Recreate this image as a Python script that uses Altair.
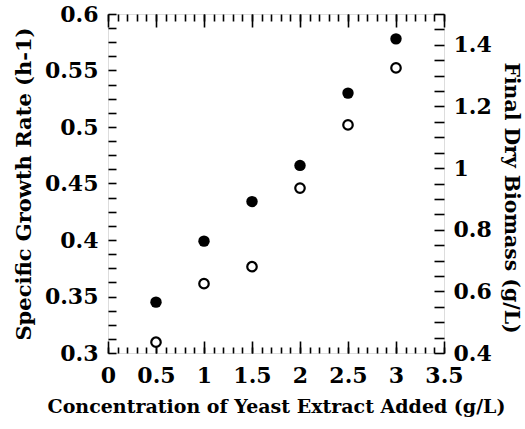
import altair as alt
import pandas as pd

# ---- data ----
concentration = [0.5, 1.0, 1.5, 2.0, 2.5, 3.0]          # g/L yeast extract
growth_rate = [0.345, 0.399, 0.434, 0.466, 0.530, 0.578]  # h-1 (filled, left axis)
dry_biomass = [0.435, 0.625, 0.680, 0.935, 1.140, 1.325]  # g/L (open, right axis)

# ---- tick lists ----
x_major = [0, 0.5, 1, 1.5, 2, 2.5, 3, 3.5]
x_minor = [round(i * 0.1, 2) for i in range(36)]
y_left_ticks = [round(0.3 + i * 0.0125, 4) for i in range(25)]
y_right_ticks = [round(0.4 + i * 0.05, 2) for i in range(23)]

df = pd.DataFrame({"conc": concentration, "growth": growth_rate, "biomass": dry_biomass})

FONT = "DejaVu Serif"
common = dict(
    domain=False, grid=False, labelOverlap=False, labelFlush=False,
    labelFont=FONT, labelFontWeight="bold", labelFontSize=22, labelColor="black",
    tickColor="black", tickWidth=1.6,
    titleFont=FONT, titleFontWeight="bold", titleColor="black",
)

x_dom = [0, 3.5]


def xs():
    return alt.Scale(domain=x_dom, nice=False, zero=False)


filled = alt.Chart(df).mark_point(shape="circle", filled=True, color="black", size=130, opacity=1).encode(
    x=alt.X("conc:Q", scale=xs(), axis=alt.Axis(
        orient="bottom", values=x_major, tickSize=12, offset=-12, labelPadding=12,
        labelExpr="format(datum.value, '~g')",
        title="Concentration of Yeast Extract Added (g/L)", titlePadding=11, titleFontSize=19, **common)),
    y=alt.Y("growth:Q", scale=alt.Scale(domain=[0.3, 0.6], nice=False, zero=False), axis=alt.Axis(
        orient="left", values=y_left_ticks, tickSize=8, offset=-8, labelPadding=10,
        labelExpr="abs(datum.value*20 - round(datum.value*20)) < 0.001 ? format(datum.value, '~g') : ''",
        title="Specific Growth Rate (h-1)", titlePadding=10, titleFontSize=21, **common)),
)

opened = alt.Chart(df).mark_point(shape="circle", filled=False, color="black", size=90, strokeWidth=2.2, fill="white", opacity=1).encode(
    x=alt.X("conc:Q", scale=xs(), axis=alt.Axis(
        orient="bottom", values=x_minor, tickSize=6, offset=-6, labels=False, title=None, **common)),
    y=alt.Y("biomass:Q", scale=alt.Scale(domain=[0.4, 1.5], nice=False, zero=False), axis=alt.Axis(
        orient="right", values=y_right_ticks, tickSize=10, offset=-10, labelPadding=9,
        labelExpr="abs(datum.value*5 - round(datum.value*5)) < 0.001 ? format(datum.value, '~g') : ''",
        title="Final Dry Biomass (g/L)", titlePadding=9, titleFontSize=20.4, titleY=183.5, **common)),
)

top_major = alt.Chart(df).mark_point(opacity=0).encode(
    x=alt.X("conc:Q", scale=xs(), axis=alt.Axis(
        orient="top", values=x_major, tickSize=13, offset=-13, labels=False, title=None, **common)),
)

top_minor = alt.Chart(df).mark_point(opacity=0).encode(
    x=alt.X("conc:Q", scale=xs(), axis=alt.Axis(
        orient="top", values=x_minor, tickSize=7, offset=-7, labels=False, title=None, **common)),
)

chart = alt.layer(filled, opened, top_major, top_minor).resolve_scale(
    x="independent", y="independent"
).properties(
    width=336, height=339,
    autosize=alt.AutoSizeParams(type="none"),
    padding={"left": 108, "top": 14, "right": 81, "bottom": 76},
).configure_view(stroke="black", strokeWidth=2).configure(background="white")

chart.save("out.html", embed_options={"renderer": "svg", "actions": False})
